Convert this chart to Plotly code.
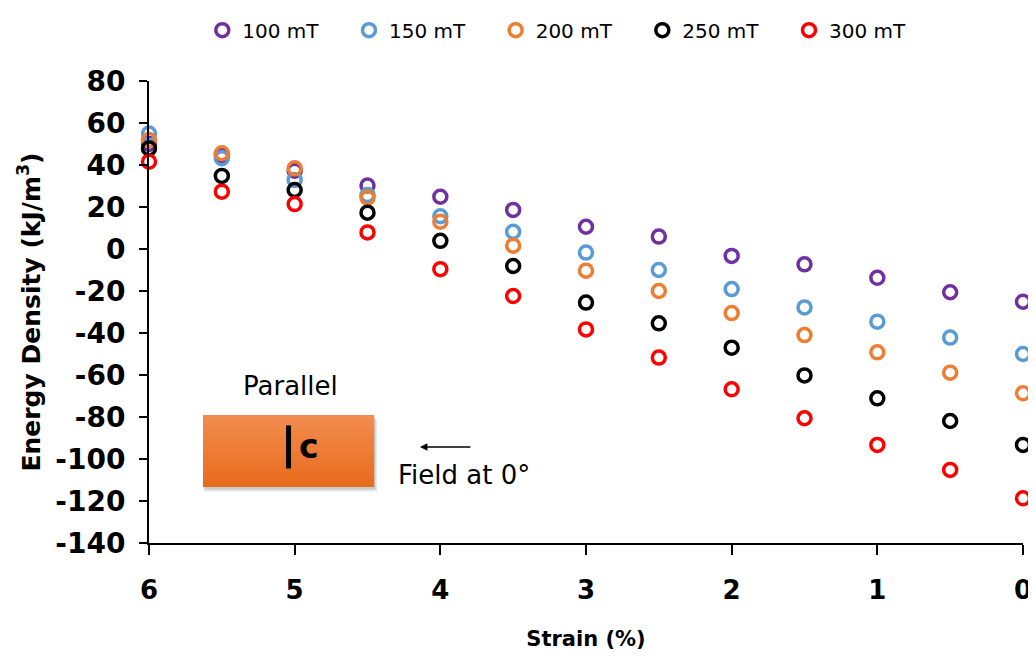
import plotly.graph_objects as go

strain = [6, 5.5, 5, 4.5, 4, 3.5, 3, 2.5, 2, 1.5, 1, 0.5, 0]
e100 = [50, 44.8, 37.3, 30.2, 24.9, 18.6, 10.6, 5.9, -3.3, -7.3, -13.7, -20.6, -25.1]
e150 = [55, 43.2, 32.9, 25.7, 15.6, 8.2, -1.7, -10.0, -19.1, -27.8, -34.6, -42.2, -50.0]
e200 = [51.9, 45.6, 38.4, 24.4, 13.0, 1.6, -10.3, -20.0, -30.5, -41.0, -49.2, -58.9, -68.7]
e250 = [47.9, 34.8, 28.1, 17.3, 3.9, -8.1, -25.5, -35.4, -47.0, -60.2, -71.1, -81.9, -93.3]
e300 = [41.6, 27.3, 21.4, 7.9, -9.6, -22.4, -38.3, -51.7, -66.8, -80.6, -93.3, -105.2, -118.7]

names = ["100 mT", "150 mT", "200 mT", "250 mT", "300 mT"]
colors = ["#7030A0", "#5B9BD5", "#ED7D31", "#000000", "#FF0000"]
values = [e100, e150, e200, e250, e300]

y_ticks = list(range(-140, 81, 20))
y_ticktext = [str(v) for v in y_ticks]
x_ticks = [6, 5, 4, 3, 2, 1, 0]
x_ticktext = [str(v) for v in x_ticks]

FONT = "DejaVu Sans"
PAD = "\u00a0" * 4

fig = go.Figure()
for name, vals, col in zip(names, values, colors):
    fig.add_trace(go.Scatter(
        x=strain, y=vals, mode="markers", name=name + PAD,
        cliponaxis=False,
        marker=dict(symbol="circle-open", size=13, color=col,
                    line=dict(color=col, width=3.5)),
    ))

# Inset drawing: soft shadow, orange block with vertical gradient, c-axis bar
bx0, bx1, by0, by1 = 5.629, 4.455, -79.0, -113.3
fig.add_shape(type="rect", xref="x", yref="y", x0=bx0 - 0.01, x1=bx1 - 0.02, y0=by0 - 2.0, y1=by1 - 2.2,
              fillcolor="rgba(0,0,0,0.10)", line=dict(width=0), layer="above")
fig.add_shape(type="rect", xref="x", yref="y", x0=bx0 - 0.005, x1=bx1 - 0.01, y0=by0 - 1.0, y1=by1 - 1.2,
              fillcolor="rgba(0,0,0,0.12)", line=dict(width=0), layer="above")
top_c = (242, 140, 78)
bot_c = (232, 108, 30)
fig.add_shape(type="rect", xref="x", yref="y", x0=bx0, x1=bx1, y0=by0, y1=by1,
              fillcolor="rgb(237,124,54)", line=dict(width=0), layer="above")
nstrip = 10
for i in range(nstrip):
    t = i / (nstrip - 1)
    c = tuple(round(top_c[k] + (bot_c[k] - top_c[k]) * t) for k in range(3))
    ya = by0 + (by1 - by0) * i / nstrip
    yb = by0 + (by1 - by0) * (i + 1) / nstrip
    if i < nstrip - 1:
        yb -= 0.8
    fig.add_shape(type="rect", xref="x", yref="y", x0=bx0, x1=bx1, y0=ya, y1=yb,
                  fillcolor="rgb(%d,%d,%d)" % c, line=dict(width=0), layer="above")
fig.add_shape(type="line", xref="x", yref="y", x0=5.042, x1=5.042, y0=-84.0, y1=-104.5,
              line=dict(color="black", width=5), layer="above")
fig.add_annotation(x=4.90, y=-94.0, xref="x", yref="y", text="<b>c</b>", showarrow=False,
                   font=dict(family=FONT, size=33, color="black"))
fig.add_annotation(x=5.032, y=-65.2, xref="x", yref="y", text="Parallel", showarrow=False,
                   font=dict(family=FONT, size=26, color="black"))
fig.add_annotation(x=4.14, y=-94.3, ax=3.783, ay=-94.3, xref="x", yref="y",
                   axref="x", ayref="y", text="", showarrow=True,
                   arrowhead=2, arrowsize=1, arrowwidth=1.5, arrowcolor="black")
fig.add_annotation(x=3.838, y=-107.8, xref="x", yref="y", text="Field at 0°", showarrow=False,
                   font=dict(family=FONT, size=26, color="black"))

# page body has an 8px margin: shrink the figure so the plot area lands where the reference has it
fig.update_layout(
    width=1028, height=650,
    paper_bgcolor="white", plot_bgcolor="white",
    margin=dict(l=141, r=13, t=73, b=115, autoexpand=False),
    font=dict(family=FONT, color="black"),
    showlegend=True,
    legend=dict(orientation="h", x=0.061, xanchor="left", y=1.11, yanchor="middle",
                font=dict(family=FONT, size=20, color="black"),
                itemwidth=30, bgcolor="rgba(0,0,0,0)"),
    xaxis=dict(
        range=[6, 0], tickmode="array", tickvals=x_ticks, ticktext=x_ticktext,
        automargin=False,
        showgrid=False, zeroline=False, showline=True, linecolor="black", linewidth=2,
        ticks="outside", ticklen=10, tickwidth=2, tickcolor="black",
        tickfont=dict(family=FONT, size=26, color="black", weight="bold"),
        ticklabelstandoff=13,
        title=dict(text="<b>Strain (%)</b>", font=dict(family=FONT, size=21, color="black"),
                   standoff=27),
    ),
    yaxis=dict(
        range=[-140, 80], tickmode="array", tickvals=y_ticks, ticktext=y_ticktext,
        automargin=False,
        showgrid=False, zeroline=False, showline=True, linecolor="black", linewidth=2,
        ticks="outside", ticklen=8, tickwidth=2, tickcolor="black",
        tickfont=dict(family=FONT, size=28, color="black", weight="bold"),
        ticklabelstandoff=8,
        title=dict(text="<b>Energy Density (kJ/m<sup>3</sup>)</b>",
                   font=dict(family=FONT, size=25, color="black"), standoff=8),
    ),
)

fig.write_html("out.html")
